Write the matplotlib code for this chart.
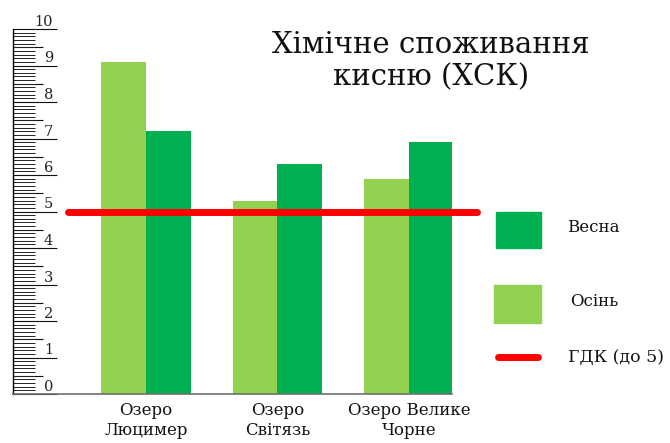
import matplotlib
matplotlib.use("Agg")
import matplotlib.pyplot as plt
import numpy as np
from matplotlib.patches import Rectangle
from matplotlib.lines import Line2D
from matplotlib.ticker import MultipleLocator, FixedLocator, NullFormatter
import matplotlib.transforms as mtransforms

# ---- data ----
categories = ["Озеро\nЛюцимер", "Озеро\nСвітязь", "Озеро Велике\nЧорне"]
autumn = [9.1, 5.3, 5.9]   # Осінь
spring = [7.2, 6.3, 6.9]   # Весна
limit = 5                   # ГДК (до 5)
y_labels = [str(i) for i in range(0, 11)]
title = "Хімічне споживання\nкисню (ХСК)"
legend_labels = ["Весна", "Осінь", "ГДК (до 5)"]

LIGHT = "#92D050"
DARK = "#00B050"
RED = "#FF0000"
SERIF = ["DejaVu Serif"]

W, H = 670, 443
fig = plt.figure(figsize=(W / 100, H / 100), dpi=100)

def fx(px):
    return px / W

def fy(py):
    return 1 - py / H

ax_left, ax_right, ax_top, ax_bottom = 13, 452, 29, 394
ax = fig.add_axes([fx(ax_left), fy(ax_bottom), fx(ax_right - ax_left), (ax_bottom - ax_top) / H])

x = np.arange(len(categories))
bw = 0.34
ax.bar(x - bw, autumn, width=bw, align="edge", color=LIGHT, zorder=2)
ax.bar(x, spring, width=bw, align="edge", color=DARK, zorder=2)

ax.set_xlim(-1.011, 2.327)
ax.set_ylim(0, 10)

# limit line (extends past the plot edges)
ax.plot([-0.59, 2.52], [limit, limit], color=RED, lw=5, solid_capstyle="round",
        clip_on=False, zorder=3)

# spines
for s in ["top", "right"]:
    ax.spines[s].set_visible(False)
ax.spines["left"].set_color("black")
ax.spines["left"].set_linewidth(1.0)
ax.spines["bottom"].set_color("#707070")
ax.spines["bottom"].set_linewidth(1.2)

# ruler-like y axis
ax.yaxis.set_major_locator(MultipleLocator(1))
ax.yaxis.set_minor_locator(MultipleLocator(0.1))
ax.yaxis.set_major_formatter(NullFormatter())
ax.tick_params(axis="y", which="major", direction="in", length=44 * 0.72, width=0.8,
               color="#111111", labelleft=False)
ax.tick_params(axis="y", which="minor", direction="in", length=22 * 0.72, width=0.7,
               color="#222222")
sec = ax.secondary_yaxis(0)
sec.yaxis.set_major_locator(FixedLocator(np.arange(0.5, 10, 1)))
sec.tick_params(axis="y", direction="in", length=30 * 0.72, width=0.8, color="#111111",
                labelleft=False)
sec.spines["left"].set_visible(False)

lab_tr = mtransforms.offset_copy(ax.get_yaxis_transform(), fig=fig, x=40, y=3, units="dots")
for i, lab in enumerate(y_labels):
    ax.text(0, i, lab, transform=lab_tr, ha="right", va="baseline", fontsize=10.5,
            family=SERIF, color="#222222")

# category labels
ax.set_xticks(x)
ax.set_xticklabels(categories, fontsize=12, family=SERIF, linespacing=1.2, color="#111111")
ax.tick_params(axis="x", length=0, pad=6)

# title
for k, line in enumerate(title.split("\n")):
    fig.text(fx(431), fy(53 + 32 * k), line, ha="center", va="baseline", fontsize=21,
             family=SERIF, color="#111111")

# manual legend
fig.add_artist(Rectangle((fx(496), fy(248)), fx(541 - 496), (248 - 212) / H,
                         transform=fig.transFigure, color=DARK))
fig.add_artist(Rectangle((fx(494), fy(323)), fx(541 - 494), (323 - 285) / H,
                         transform=fig.transFigure, color=LIGHT))
fig.add_artist(Line2D([fx(498), fx(538)], [fy(357), fy(357)], transform=fig.transFigure,
                      color=RED, lw=5, solid_capstyle="round"))
fig.text(fx(567), fy(228), legend_labels[0], ha="left", va="center", fontsize=12,
         family=SERIF, color="#111111")
fig.text(fx(570), fy(302), legend_labels[1], ha="left", va="center", fontsize=12,
         family=SERIF, color="#111111")
fig.text(fx(568), fy(358), legend_labels[2], ha="left", va="center", fontsize=12.5,
         family=SERIF, color="#111111")

fig.savefig("out.png", dpi=100)
